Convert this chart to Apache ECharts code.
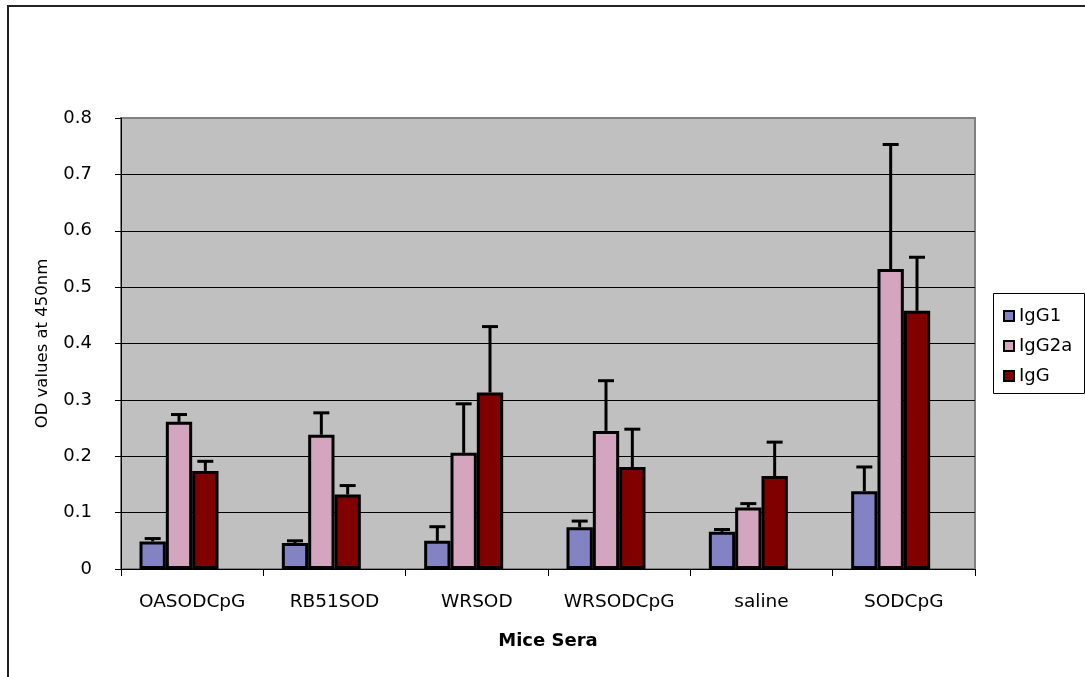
<!DOCTYPE html>
<html>
<head>
<meta charset="utf-8">
<script src="https://cdn.jsdelivr.net/npm/echarts@6/dist/echarts.min.js"></script>
<style>
html,body{margin:0;padding:0;background:#fff;}
#chart{width:1085px;height:677px;}
</style>
</head>
<body>
<div id="chart"></div>
<script>
const categories = ['OASODCpG', 'RB51SOD', 'WRSOD', 'WRSODCpG', 'saline', 'SODCpG'];
const seriesNames = ['IgG1', 'IgG2a', 'IgG'];
const igg1 = [0.049, 0.046, 0.050, 0.074, 0.066, 0.138];
const igg2a = [0.261, 0.238, 0.206, 0.245, 0.109, 0.532];
const igg = [0.174, 0.132, 0.313, 0.181, 0.165, 0.458];
const igg1Err = [0.005, 0.004, 0.025, 0.011, 0.004, 0.043];
const igg2aErr = [0.013, 0.039, 0.087, 0.089, 0.007, 0.221];
const iggErr = [0.017, 0.016, 0.117, 0.067, 0.060, 0.095];
const yTickLabels = ['0', '0.1', '0.2', '0.3', '0.4', '0.5', '0.6', '0.7', '0.8'];

const colors = ['#8383C3', '#D3A5BF', '#800000'];
const values = [igg1, igg2a, igg];
const errs = [igg1Err, igg2aErr, iggErr];
const GAP = 0.26, NBARS = 4;

const chart = echarts.init(document.getElementById('chart'), null, {renderer: 'canvas'});
const FONT = 'DejaVu Sans';

const series = [];
values.forEach((vals, k) => {
  series.push({
    name: seriesNames[k], type: 'bar', data: vals, barGap: '0%', barCategoryGap: (GAP * 100) + '%',
    itemStyle: {color: colors[k], borderColor: '#000', borderWidth: 3},
    z: 2
  });
});
// empty placeholder series: reproduces the left-shifted bar groups of the original
series.push({name: 'pad', type: 'bar', data: [], barGap: '0%', barCategoryGap: (GAP * 100) + '%'});
values.forEach((vals, k) => {
  series.push({
    type: 'custom', z: 5, silent: true,
    data: vals.map((v, i) => [i, v, v + errs[k][i]]),
    renderItem: function (params, api) {
      const band = api.size([1, 0])[0];
      const bw = band * (1 - GAP) / NBARS;
      const off = -NBARS * bw / 2 + bw * (k + 0.5);
      const p0 = api.coord([api.value(0), api.value(1)]);
      const p1 = api.coord([api.value(0), api.value(2)]);
      const x = p0[0] + off;
      const st = {stroke: '#000', lineWidth: 3};
      return {type: 'group', children: [
        {type: 'line', shape: {x1: x, y1: p0[1], x2: x, y2: p1[1]}, style: st},
        {type: 'line', shape: {x1: x - 8, y1: p1[1], x2: x + 8, y2: p1[1]}, style: st}
      ]};
    }
  });
});

chart.setOption({
  animation: false,
  textStyle: {fontFamily: FONT},
  graphic: [
    {type: 'rect', shape: {x: 8, y: 6, width: 1200, height: 800}, style: {fill: 'none', stroke: '#222', lineWidth: 2}, z: 0},
    {type: 'rect', shape: {x: 993.5, y: 293.5, width: 91, height: 100}, style: {fill: '#fff', stroke: '#000', lineWidth: 1}, z: 1}
  ],
  grid: {left: 121, right: 110, top: 118, bottom: 108, show: true, backgroundColor: '#C0C0C0', borderColor: '#808080', borderWidth: 2},
  legend: {
    data: seriesNames, orient: 'vertical', left: 998, top: 302, itemWidth: 10, itemHeight: 10, itemGap: 12,
    textStyle: {fontFamily: FONT, fontSize: 18, color: '#000'}, icon: 'rect', z: 10
  },
  xAxis: {
    type: 'category', data: categories,
    name: 'Mice Sera', nameLocation: 'middle', nameGap: 63,
    nameTextStyle: {fontFamily: FONT, fontSize: 18, fontWeight: 'bold', color: '#000'},
    axisLine: {lineStyle: {color: '#000', width: 1}},
    axisTick: {show: true, interval: 0, length: 7, lineStyle: {color: '#000'}},
    axisLabel: {fontFamily: FONT, fontSize: 18.5, color: '#000', margin: 24, interval: 0, hideOverlap: false}
  },
  yAxis: {
    type: 'value', min: 0, max: 0.8, interval: 0.1,
    name: 'OD values at 450nm', nameLocation: 'middle', nameGap: 70, nameRotate: 90,
    nameTextStyle: {fontFamily: FONT, fontSize: 16.5, color: '#000'},
    axisLine: {show: true, lineStyle: {color: '#000', width: 1}},
    axisTick: {show: true, length: 6, lineStyle: {color: '#000'}},
    axisLabel: {fontFamily: FONT, fontSize: 18, color: '#000', margin: 29,
      formatter: v => yTickLabels[Math.round(v * 10)]},
    splitLine: {show: true, lineStyle: {color: ['#000', '#000', '#000', '#000', '#000', '#000', '#000', '#000', '#808080'], width: 1}}
  },
  series: series
});
</script>
</body>
</html>
